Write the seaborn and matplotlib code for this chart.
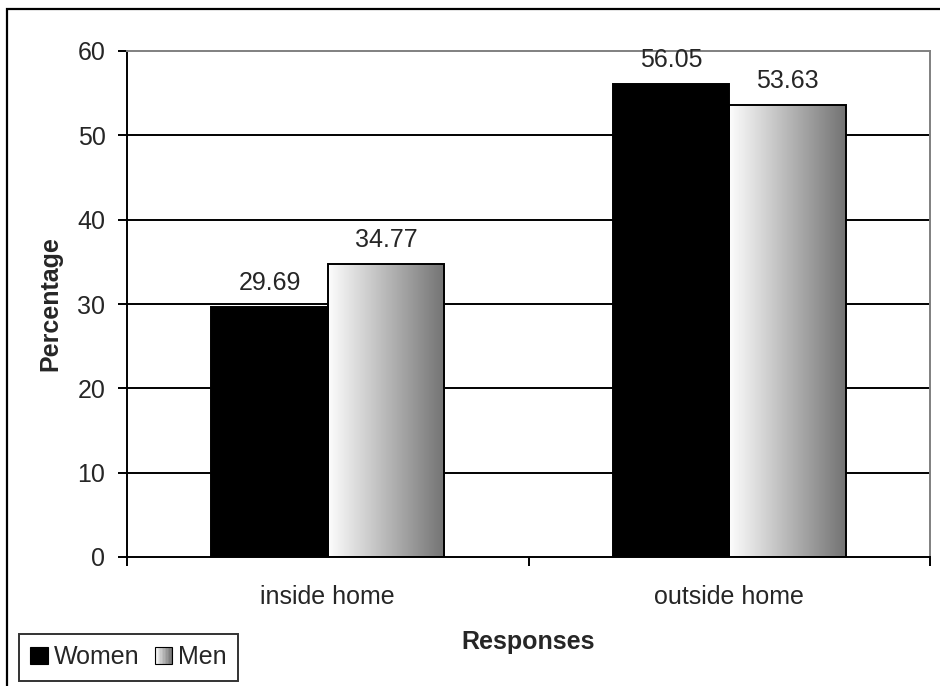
import numpy as np
import pandas as pd
import matplotlib
matplotlib.use("Agg")
import matplotlib.pyplot as plt
import seaborn as sns
from matplotlib.patches import Rectangle
from matplotlib.legend_handler import HandlerBase

categories = ["inside home", "outside home"]
groups = ["Women", "Men"]
women = [29.69, 56.05]
men = [34.77, 53.63]
y_ticks = [0, 10, 20, 30, 40, 50, 60]

df = pd.DataFrame({
    "Responses": categories * 2,
    "Sex": ["Women"] * len(categories) + ["Men"] * len(categories),
    "Percentage": women + men,
})

sns.set_theme(style="white")
plt.rcParams["font.family"] = ["Liberation Sans", "DejaVu Sans"]
FS = 18

W, H = 940, 686
fig = plt.figure(figsize=(W / 100, H / 100), dpi=100)
ax_l, ax_r, ax_t, ax_b = 127, 930, 51, 557
ax = fig.add_axes([ax_l / W, 1 - ax_b / H, (ax_r - ax_l) / W, (ax_b - ax_t) / H])

sns.barplot(data=df, x="Responses", y="Percentage", hue="Sex",
            order=categories, hue_order=groups,
            palette={"Women": "black", "Men": "white"},
            width=0.58, edgecolor="black", linewidth=1.4,
            legend=False, ax=ax, zorder=3)

# horizontal gradient fill for the Men bars
grad = np.linspace(0.99, 0.45, 256).reshape(1, -1)
n = len(categories)
bars = list(ax.patches)[:2 * n]
for p in bars[n:]:
    x0, y0 = p.get_x(), p.get_y()
    w, h = p.get_width(), p.get_height()
    p.set_facecolor("none")
    im = ax.imshow(grad, cmap="gray", vmin=0, vmax=1, aspect="auto",
                   extent=[x0, x0 + w, y0, y0 + h], zorder=2.5,
                   interpolation="bilinear")
    im.set_clip_path(p)
ax.set_xlim(-0.5, 1.5)
ax.set_ylim(0, 60)

# value labels above each bar
for p in bars:
    h = p.get_height()
    ax.annotate(f"{h:.2f}", (p.get_x() + p.get_width() / 2, h),
                xytext=(0, 12.2), textcoords="offset points",
                ha="center", va="baseline", fontsize=FS, zorder=5,
                annotation_clip=False)

# gridlines
for yv in y_ticks[1:-1]:
    ax.axhline(yv, color="black", lw=1.4, zorder=1)

ax.set_yticks(y_ticks)
ax.set_yticklabels([str(v) for v in y_ticks], fontsize=FS)
ax.set_xticks(range(n))
ax.set_xticklabels(categories, fontsize=FS)
ax.set_xticks([-0.5, 0.5, 1.5], minor=True)
ax.tick_params(axis="x", which="major", length=0, pad=20)
ax.tick_params(axis="x", which="minor", length=6.5, width=1.4, color="black", direction="out")
ax.tick_params(axis="y", length=6.5, width=1.4, color="black", direction="out", pad=9)
ax.xaxis.set_ticks_position("bottom")
ax.yaxis.set_ticks_position("left")

for side in ["left", "bottom"]:
    ax.spines[side].set_color("black")
    ax.spines[side].set_linewidth(1.4)
for side in ["top", "right"]:
    ax.spines[side].set_color("#808080")
    ax.spines[side].set_linewidth(1.4)
ax.grid(False)

ax.set_ylabel("Percentage", fontsize=FS, fontweight="bold")
ax.yaxis.set_label_coords((62 - ax_l) / (ax_r - ax_l), 0.5)
ax.set_xlabel("Responses", fontsize=FS, fontweight="bold")
ax.xaxis.set_label_coords(0.5, -(630 - ax_b) / (ax_b - ax_t))


class GradientHandler(HandlerBase):
    def create_artists(self, legend, orig_handle, xdescent, ydescent,
                       width, height, fontsize, trans):
        side = min(width, height)
        x0 = -xdescent + (width - side)
        y0 = -ydescent
        arts = []
        steps = 12
        for i in range(steps):
            g = 0.99 - (0.99 - 0.45) * i / (steps - 1)
            arts.append(Rectangle((x0 + side * i / steps, y0), side / steps, side,
                                  facecolor=(g, g, g), edgecolor="none", transform=trans))
        arts.append(Rectangle((x0, y0), side, side, facecolor="none",
                              edgecolor="black", lw=0.8, transform=trans))
        return arts


class SquareHandler(HandlerBase):
    def create_artists(self, legend, orig_handle, xdescent, ydescent,
                       width, height, fontsize, trans):
        side = min(width, height)
        return [Rectangle((-xdescent + (width - side), -ydescent), side, side,
                          facecolor="black", edgecolor="black", lw=0.8, transform=trans)]


h_w = Rectangle((0, 0), 1, 1)
h_m = Rectangle((0, 0), 1, 1)
leg = fig.legend([h_w, h_m], groups, loc="upper left",
                 bbox_to_anchor=(19 / W, 1 - 634 / H),
                 ncol=2, fontsize=FS, frameon=True, fancybox=False,
                 handler_map={h_w: SquareHandler(), h_m: GradientHandler()},
                 handlelength=0.7, handleheight=0.7, handletextpad=0.25,
                 columnspacing=0.6, borderaxespad=0, borderpad=0.45)
leg.get_frame().set_edgecolor("black")
leg.get_frame().set_linewidth(1.4)

# outer chart frame
fig.patches.append(Rectangle((7 / W, -0.1), 1.2, 1.1 - 9 / H,
                             transform=fig.transFigure, facecolor="none",
                             edgecolor="black", lw=1.6, zorder=0))

fig.savefig("out.png", dpi=100)
